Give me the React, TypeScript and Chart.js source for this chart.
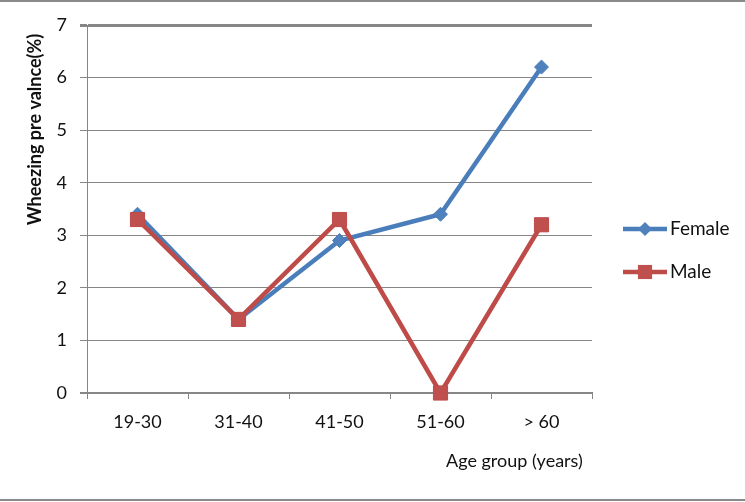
import React, { useEffect, useRef } from 'react';
import { Chart, registerables } from 'chart.js';

Chart.register(...registerables);

const categories: string[] = ['19-30', '31-40', '41-50', '51-60', '> 60'];
const femaleValues: number[] = [3.4, 1.4, 2.9, 3.4, 6.2];
const maleValues: number[] = [3.3, 1.4, 3.3, 0, 3.2];
const yTickValues: number[] = [0, 1, 2, 3, 4, 5, 6, 7];
const seriesLabels: string[] = ['Female', 'Male'];

const FONT = 'Lato, "Open Sans", "DejaVu Sans", sans-serif';
const GRID = '#868686';

const framePlugin = {
  id: 'frame',
  beforeDraw(chart: any) {
    const { ctx, width } = chart;
    ctx.save();
    ctx.strokeStyle = '#8a8a8a';
    ctx.lineWidth = 2;
    ctx.beginPath();
    ctx.moveTo(0, 1);
    ctx.lineTo(width, 1);
    ctx.moveTo(0, 500);
    ctx.lineTo(width, 500);
    ctx.stroke();
    ctx.restore();
  },
};

const legendPlugin = {
  id: 'sideLegend',
  afterDraw(chart: any) {
    const { ctx } = chart;
    const x0 = 623;
    const x1 = 667;
    const ys = [229, 272];
    ctx.save();
    chart.data.datasets.forEach((ds: any, i: number) => {
      const y = ys[i];
      ctx.strokeStyle = ds.borderColor;
      ctx.lineWidth = ds.borderWidth;
      ctx.beginPath();
      ctx.moveTo(x0, y);
      ctx.lineTo(x1, y);
      ctx.stroke();
      const cx = (x0 + x1) / 2;
      ctx.fillStyle = ds.pointBackgroundColor;
      ctx.beginPath();
      if (ds.pointStyle === 'rectRot') {
        const r = ds.pointRadius;
        ctx.moveTo(cx - r, y);
        ctx.lineTo(cx, y - r);
        ctx.lineTo(cx + r, y);
        ctx.lineTo(cx, y + r);
        ctx.closePath();
      } else {
        const s = ds.pointRadius * Math.SQRT1_2;
        ctx.rect(cx - s, y - s, 2 * s, 2 * s);
      }
      ctx.fill();
      ctx.fillStyle = '#111';
      ctx.font = `19px ${FONT}`;
      ctx.textAlign = 'left';
      ctx.textBaseline = 'middle';
      ctx.fillText(ds.label, x1 + 3, y);
    });
    ctx.restore();
  },
};

export default function App() {
  const canvasRef = useRef<HTMLCanvasElement | null>(null);

  useEffect(() => {
    document.body.style.margin = '0';
    const canvas = canvasRef.current;
    if (!canvas) return;
    const chart = new Chart(canvas, {
      type: 'line',
      data: {
        labels: categories,
        datasets: [
          {
            label: seriesLabels[0],
            data: femaleValues,
            borderColor: '#4A7EBB',
            borderWidth: 4.5,
            pointStyle: 'rectRot',
            pointRadius: 7,
            pointBackgroundColor: '#4F81BD',
            pointBorderColor: '#4A7EBB',
            pointBorderWidth: 1,
            tension: 0,
            order: 1,
            clip: false,
          } as any,
          {
            label: seriesLabels[1],
            data: maleValues,
            borderColor: '#BE4B48',
            borderWidth: 4.5,
            pointStyle: 'rect',
            pointRadius: 10,
            pointBackgroundColor: '#C0504D',
            pointBorderColor: '#BE4B48',
            pointBorderWidth: 1,
            tension: 0,
            order: 0,
            clip: false,
          } as any,
        ],
      },
      options: {
        responsive: false,
        animation: false,
        devicePixelRatio: 1,
        layout: { padding: { top: 25, right: 153, bottom: 0, left: 0 } },
        plugins: {
          legend: { display: false },
          tooltip: { enabled: false },
        },
        scales: {
          x: {
            type: 'category',
            offset: true,
            grid: {
              offset: true,
              drawOnChartArea: false,
              drawTicks: true,
              tickLength: 6,
              color: GRID,
              lineWidth: 1,
            },
            border: { color: GRID, width: 2 },
            ticks: {
              color: '#111',
              font: { family: FONT, size: 18 },
              padding: 12,
              maxRotation: 0,
            },
            title: {
              display: true,
              text: 'Age group (years)  ',
              align: 'end',
              color: '#111',
              font: { family: FONT, size: 18 },
              padding: { top: 4, bottom: 30 },
            },
            afterFit: (s: any) => {
              s.height = 109;
            },
          },
          y: {
            min: 0,
            max: 7,
            afterBuildTicks: (s: any) => {
              s.ticks = yTickValues.map((v) => ({ value: v }));
            },
            grid: {
              color: GRID,
              lineWidth: (c: any) => (c.tick && c.tick.value === 7 ? 3 : c.tick && c.tick.value === 0 ? 2 : 1),
              tickLength: 7,
            },
            border: { color: GRID, width: 1 },
            ticks: {
              color: '#111',
              font: { family: FONT, size: 18 },
              padding: 13,
            },
            title: {
              display: true,
              text: 'Wheezing pre valnce(%)  ',
              align: 'end',
              color: '#111',
              font: { family: FONT, size: 18, weight: 'bold' },
              padding: { top: 24, bottom: 0 },
            },
            afterFit: (s: any) => {
              s.width = 87;
            },
          },
        },
      },
      plugins: [framePlugin, legendPlugin],
    });
    return () => chart.destroy();
  }, []);

  return (
    <div style={{ position: 'absolute', left: 0, top: 0, width: 745, height: 502 }}>
      <canvas ref={canvasRef} width={745} height={502} style={{ display: 'block' }} />
    </div>
  );
}
